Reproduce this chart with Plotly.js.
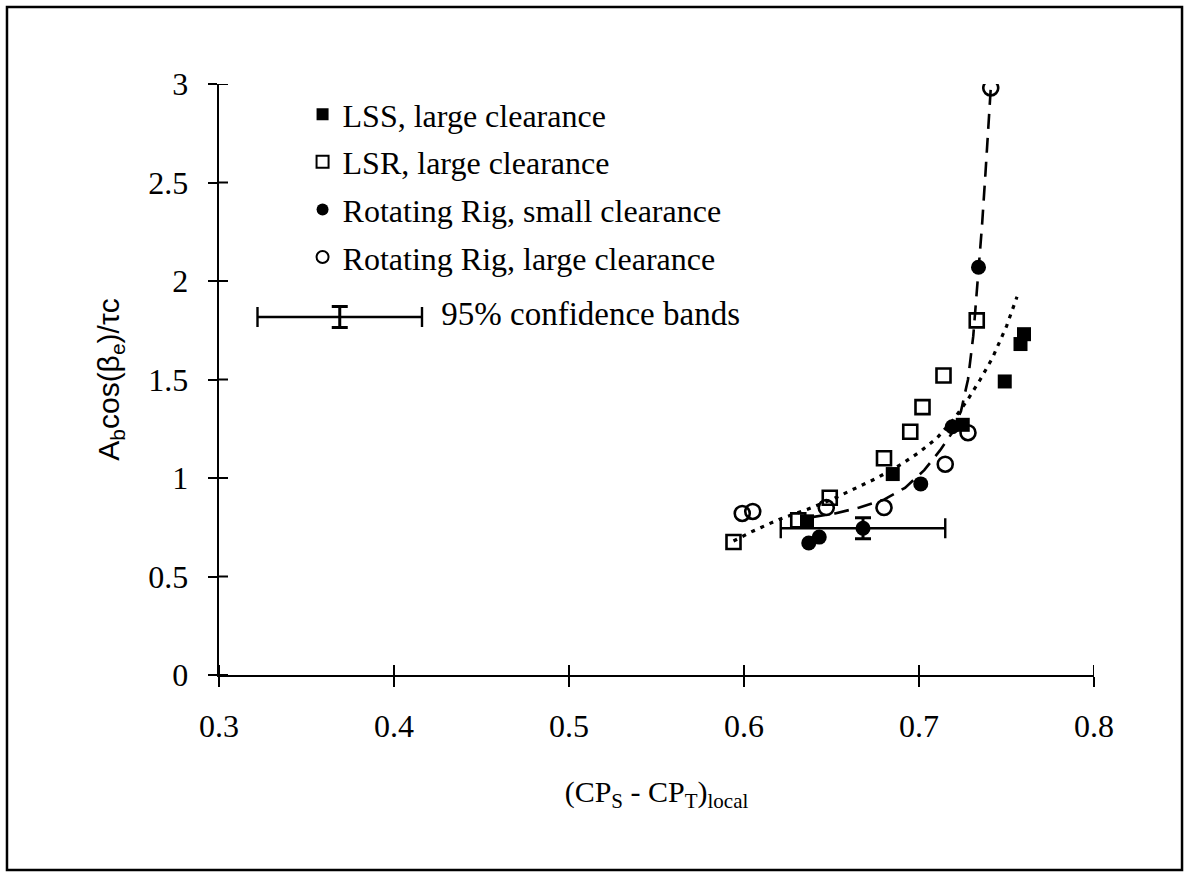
<!DOCTYPE html>
<html>
<head>
<meta charset="utf-8">
<script src="https://cdn.plot.ly/plotly-3.0.1.min.js"></script>
<style>
  html, body { margin: 0; padding: 0; background: #ffffff; }
  #chart { width: 1189px; height: 877px; }
</style>
</head>
<body>
<div id="chart"></div>
<script>
// ---- data ----
const lssX = [0.636, 0.685, 0.725, 0.749, 0.758, 0.760];
const lssY = [0.78, 1.02, 1.27, 1.49, 1.68, 1.73];

const lsrX = [0.594, 0.631, 0.649, 0.680, 0.695, 0.702, 0.714, 0.733];
const lsrY = [0.675, 0.785, 0.90, 1.10, 1.235, 1.36, 1.52, 1.80];

const rrSmallX = [0.637, 0.643, 0.701, 0.719, 0.734];
const rrSmallY = [0.67, 0.70, 0.97, 1.26, 2.07];

const rrLargeX = [0.599, 0.605, 0.647, 0.680, 0.715, 0.728, 0.741];
const rrLargeY = [0.82, 0.83, 0.85, 0.85, 1.07, 1.23, 2.98];

// point carrying the 95% confidence bands
const ciPointX = [0.668];
const ciPointY = [0.745];
const ciHalfX = 0.047;
const ciHalfY = 0.053;

// sample band drawn next to the "95% confidence bands" label
const ciSampleX = [0.369];
const ciSampleY = [1.817];
const ciLabelX = [0.427];
const ciLabel = ["95% confidence bands"];

// fitted curves
const dashX = [0.638, 0.652, 0.666, 0.680, 0.692, 0.703, 0.712, 0.719, 0.724, 0.728, 0.731, 0.7335, 0.736, 0.738, 0.740, 0.742];
const dashY = [0.80, 0.82, 0.85, 0.89, 0.95, 1.04, 1.14, 1.23, 1.34, 1.50, 1.72, 1.98, 2.28, 2.55, 2.85, 3.12];

const dotX = [0.594, 0.605, 0.620, 0.636, 0.650, 0.662, 0.676, 0.690, 0.700, 0.710, 0.720, 0.728, 0.735, 0.742, 0.750, 0.756];
const dotY = [0.68, 0.73, 0.79, 0.84, 0.89, 0.94, 1.00, 1.07, 1.13, 1.20, 1.30, 1.40, 1.50, 1.61, 1.77, 1.92];

// axes
const xTicks = [0.3, 0.4, 0.5, 0.6, 0.7, 0.8];
const xTickText = ["0.3", "0.4", "0.5", "0.6", "0.7", "0.8"];
const yTicks = [0, 0.5, 1, 1.5, 2, 2.5, 3];
const yTickText = ["0", "0.5", "1", "1.5", "2", "2.5", "3"];

const seriesNames = ["LSS, large clearance", "LSR, large clearance",
                     "Rotating Rig, small clearance", "Rotating Rig, large clearance"];

// ---- styling ----
const SERIF = "Liberation Serif, Times New Roman, serif";
const SANS = "Liberation Sans, Arial, sans-serif";
const BLACK = "#000000";

const traces = [
  { x: dashX, y: dashY, mode: "lines", showlegend: false, hoverinfo: "skip",
    line: { color: BLACK, width: 2.6, dash: "15px,9px" } },
  { x: dotX, y: dotY, mode: "lines", showlegend: false, hoverinfo: "skip",
    line: { color: BLACK, width: 3.2, dash: "4px,6px" } },
  { x: lssX, y: lssY, mode: "markers", name: seriesNames[0], legendgroup: "a",
    marker: { symbol: "square", size: 14, color: BLACK } },
  { x: lsrX, y: lsrY, mode: "markers", name: seriesNames[1], legendgroup: "b",
    marker: { symbol: "square-open", size: 14, color: BLACK, line: { width: 2.6, color: BLACK } } },
  { x: rrSmallX, y: rrSmallY, mode: "markers", name: seriesNames[2], legendgroup: "c",
    marker: { symbol: "circle", size: 15, color: BLACK } },
  { x: rrLargeX, y: rrLargeY, mode: "markers", name: seriesNames[3], legendgroup: "d",
    marker: { symbol: "circle-open", size: 15, color: BLACK, line: { width: 2.6, color: BLACK } } },
  { x: ciPointX, y: ciPointY, mode: "markers", showlegend: false,
    marker: { symbol: "circle", size: 15, color: BLACK },
    error_x: { type: "constant", value: ciHalfX, color: BLACK, thickness: 2.4, width: 10 },
    error_y: { type: "constant", value: ciHalfY, color: BLACK, thickness: 3, width: 8 } },
  { x: ciSampleX, y: ciSampleY, mode: "markers", showlegend: false, hoverinfo: "skip",
    marker: { size: 1, color: BLACK, opacity: 0 },
    error_x: { type: "constant", value: ciHalfX, color: BLACK, thickness: 2.4, width: 10 },
    error_y: { type: "constant", value: ciHalfY, color: BLACK, thickness: 3, width: 8 } },
  { x: ciLabelX, y: ciSampleY, mode: "text", text: ciLabel, textposition: "middle right",
    showlegend: false, hoverinfo: "skip",
    textfont: { family: SERIF, size: 33, color: BLACK } }
];

// crossing tick marks: inner halves drawn as shapes
const shapes = [];
xTicks.forEach(v => shapes.push({
  type: "line", xref: "x", yref: "paper", ysizemode: "pixel", yanchor: 0,
  x0: v, x1: v, y0: 0, y1: 10, line: { color: BLACK, width: 2 }
}));
yTicks.forEach(v => shapes.push({
  type: "line", yref: "y", xref: "paper", xsizemode: "pixel", xanchor: 0,
  y0: v, y1: v, x0: 0, x1: 9, line: { color: BLACK, width: 2 }
}));
// outer frame of the figure
shapes.push({ type: "rect", xref: "paper", yref: "paper",
  x0: -0.2423, x1: 1.1006, y0: -0.33, y1: 1.1303,
  line: { color: BLACK, width: 2.5 }, fillcolor: "rgba(0,0,0,0)" });

const layout = {
  width: 1189, height: 877,
  margin: { l: 219, r: 95, t: 84, b: 202, pad: 0 },
  paper_bgcolor: "#ffffff", plot_bgcolor: "#ffffff",
  showlegend: true,
  legend: {
    x: 0.0955, y: 0.995, xanchor: "left", yanchor: "top",
    font: { family: SERIF, size: 32, color: BLACK },
    bgcolor: "rgba(0,0,0,0)", borderwidth: 0,
    tracegroupgap: 3, itemsizing: "constant"
  },
  xaxis: {
    range: [0.3, 0.8], tickmode: "array", tickvals: xTicks, ticktext: xTickText,
    ticks: "outside", ticklen: 10, tickwidth: 2, tickcolor: BLACK,
    showline: true, linecolor: BLACK, linewidth: 2.4, showgrid: false, zeroline: false,
    tickfont: { family: SERIF, size: 32, color: BLACK },
    ticklabelstandoff: 11,
    title: { text: "(CP<sub>S</sub> - CP<sub>T</sub>)<sub>local</sub>",
             font: { family: SERIF, size: 30, color: BLACK }, standoff: 38 },
    automargin: false, fixedrange: true
  },
  yaxis: {
    range: [0, 3], tickmode: "array", tickvals: yTicks, ticktext: yTickText,
    ticks: "outside", ticklen: 9, tickwidth: 2, tickcolor: BLACK,
    showline: true, linecolor: BLACK, linewidth: 2.4, showgrid: false, zeroline: false,
    tickfont: { family: SERIF, size: 32, color: BLACK },
    ticklabelstandoff: 13,
    title: { text: "A<sub>b</sub>cos(β<sub>e</sub>)/τc",
             font: { family: SANS, size: 30, color: BLACK }, standoff: 20 },
    automargin: false, fixedrange: true
  },
  shapes: shapes
};

Plotly.newPlot("chart", traces, layout, { displayModeBar: false, staticPlot: true });
</script>
</body>
</html>
